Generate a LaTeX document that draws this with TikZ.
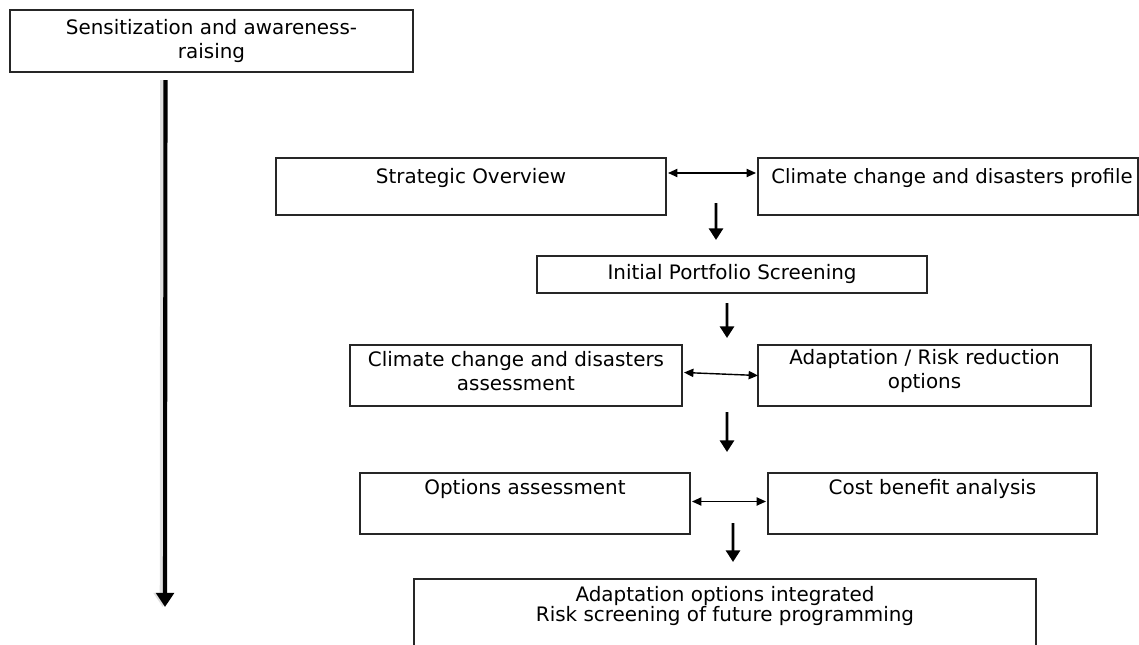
\documentclass[tikz,border=0pt]{standalone}
\usepackage{fontspec}
\setmainfont{DejaVu Sans}
\usetikzlibrary{calc,arrows.meta}
\begin{document}
\begin{tikzpicture}[x=0.03cm, y=-0.03cm,
  box/.style={draw=black!85, line width=1.5pt, anchor=north west, inner sep=0pt, outer sep=0pt},
  txt/.style={font=\fontsize{17}{21}\selectfont, align=center, inner sep=0pt},
  bigdown/.style={line width=3.5pt, -{Triangle[width=15pt,length=12pt]},
    preaction={draw=black!12, line width=5pt, transform canvas={xshift=-2pt}}},
  down/.style={line width=2.5pt, -{Triangle[width=12pt,length=10pt]}},
  both/.style={line width=1.2pt, {Triangle[width=7pt,length=8pt]}-{Triangle[width=7pt,length=8pt]}}]
  \useasboundingbox (0,0) rectangle (1139,645);
  \clip (0,0) rectangle (1139,645);
  \fill[white] (0,0) rectangle (1139,645);
  \node[box, txt, minimum width=12.09cm, minimum height=1.86cm] (sens) at (10,10) {Sensitization and awareness-\\raising};
  \node[box, minimum width=11.7cm, minimum height=1.71cm] (strat) at (276,158) {};
  \node[txt] (strattxt) at ($(strat.north)+(0,20)$) {Strategic Overview};
  \node[box, minimum width=11.4cm, minimum height=1.71cm] (prof) at (758,158) {};
  \node[txt, font=\fontsize{16.8}{21}\selectfont] (proftxt) at ($(prof.north)+(4,20)$) {Climate change and disasters profile};
  \node[box, txt, minimum width=11.7cm, minimum height=1.11cm] (init) at (537,256) {Initial Portfolio Screening};
  \node[box, minimum width=9.96cm, minimum height=1.83cm] (assess) at (350,345) {};
  \node[txt] (assesstxt) at ($(assess.north)+(0,26)$) {Climate change and disasters\\assessment};
  \node[box, minimum width=9.99cm, minimum height=1.83cm] (opts) at (758,345) {};
  \node[txt] (optstxt) at ($(opts.north)+(0,26)$) {Adaptation / Risk reduction\\options};
  \node[box, minimum width=9.9cm, minimum height=1.83cm] (oa) at (360,473) {};
  \node[txt] (oatxt) at ($(oa.north)+(0,16)$) {Options assessment};
  \node[box, minimum width=9.87cm, minimum height=1.83cm] (cba) at (768,473) {};
  \node[txt] (cbatxt) at ($(cba.north)+(0,16)$) {Cost benefit analysis};
  \node[box, minimum width=18.66cm, minimum height=3cm] (final) at (414,579) {};
  \node[txt, font=\fontsize{17}{16}\selectfont] (finaltxt) at ($(final.north)+(0,27)$) {Adaptation options integrated\\Risk screening of future programming};
  \coordinate (sensend) at (165,607);
  \draw[bigdown] ($(sens.south)+(-46,8)$) -- (sensend);
  \draw[both] ($(strat.north east)+(2,15)$) -- ($(prof.north west)+(-2,15)$);
  \draw[down] ($(strat.south east)+(50,-12)$) -- ($(init.north)+(-16,-16)$);
  \draw[down] ($(init.south)+(-5,10)$) -- ($(assess.north east)+(45,-7)$);
  \draw[both] ($(assess.east)+(2,-3)$) -- (opts.west);
  \draw[down] ($(assess.south east)+(45,6)$) -- ($(oa.north east)+(37,-21)$);
  \draw[both] ($(oa.east)+(2,-2)$) -- ($(cba.west)+(-2,-2)$);
  \draw[down] ($(oa.south east)+(43,-11)$) -- ($(final.north)+(8,-17)$);
\end{tikzpicture}
\end{document}
